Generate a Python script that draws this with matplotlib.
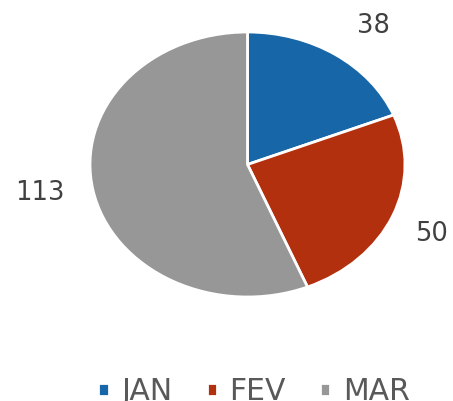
import matplotlib
matplotlib.use("Agg")
import matplotlib.pyplot as plt

categories = ["JAN", "FEV", "MAR"]
values = [38, 50, 113]
colors = ["#1767a8", "#b3300f", "#979797"]

# small pixel nudges of the value labels (dx right, dy down), style only
label_nudge = [(10, 6), (-8, 2), (-4, -5)]

W, H = 453, 401
fig = plt.figure(figsize=(W / 100, H / 100), dpi=100)
ax = fig.add_axes([0, 0, 1, 1])

wedges, texts = ax.pie(
    values,
    labels=[str(v) for v in values],
    colors=colors,
    startangle=90,
    counterclock=False,
    labeldistance=1.32,
    wedgeprops=dict(edgecolor="white", linewidth=2),
    textprops=dict(fontsize=18.5, color="#404040", ha="center", va="center",
                   family="DejaVu Sans"),
)

# elliptical pie as in reference
ax.set_aspect("auto")
cx, cy = 247.5, 164.5   # pixel centre
sx, sy = 157.5, 132.5   # pixel radii
ax.set_xlim(-cx / sx, (W - cx) / sx)
ax.set_ylim(-(H - cy) / sy, cy / sy)
ax.axis("off")

for t, (dx, dy) in zip(texts, label_nudge):
    x, y = t.get_position()
    t.set_position((x + dx / sx, y - dy / sy))

leg = fig.legend(
    wedges, categories,
    loc="upper center",
    bbox_to_anchor=(254 / W, 1 - 377 / H),
    ncol=3,
    frameon=False,
    fontsize=21.5,
    handlelength=0.34,
    handleheight=0.3,
    handletextpad=0.42,
    columnspacing=1.15,
    borderpad=0,
    borderaxespad=0,
)
for t in leg.get_texts():
    t.set_color("#595959")

fig.savefig("out.png", dpi=100, facecolor="white")
